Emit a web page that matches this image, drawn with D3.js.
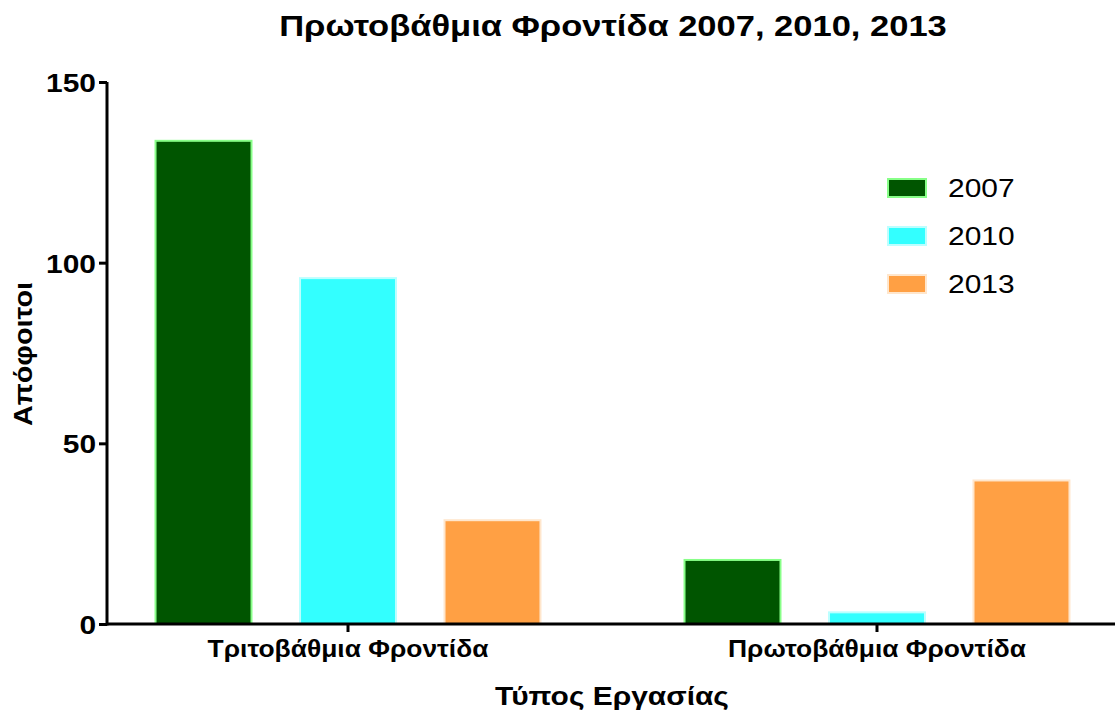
<!DOCTYPE html>
<html>
<head>
<meta charset="utf-8">
<script src="https://cdn.jsdelivr.net/npm/d3@7"></script>
<style>
  body { margin: 0; background: #fff; }
  text { font-family: "Liberation Sans", Arial, sans-serif; }
</style>
</head>
<body>
<svg id="chart" width="1115" height="715"></svg>
<script>
// data
var categories = ["Τριτοβάθμια Φροντίδα", "Πρωτοβάθμια Φροντίδα"];
var years = ["2007", "2010", "2013"];
var values2007 = [134, 18];
var values2010 = [96, 3.5];
var values2013 = [29, 40];
var yTicks = [0, 50, 100, 150];

var fills = ["#005500", "#33ffff", "#ffa044"];
var strokes = ["#88ff88", "#bbffff", "#ffe6cc"];

var margin = {top: 82, left: 107, right: 0, bottom: 91},
    width = 1115 - margin.left - margin.right,
    height = 715 - margin.top - margin.bottom;

var series = [values2007, values2010, values2013];

// the reference font is a little wider than Liberation Sans
function stretch(sel, k) {
    k = k || 1.15;
    sel.each(function() {
        var len = this.getComputedTextLength();
        d3.select(this).attr("textLength", len * k).attr("lengthAdjust", "spacingAndGlyphs");
    });
}

var x0 = d3.scaleBand()
    .domain(categories)
    .range([0, 1011])
    .paddingInner(0.1)
    .paddingOuter(0.0056);

var x1 = d3.scaleBand()
    .domain(years)
    .range([0, x0.bandwidth()])
    .paddingInner(0.322)
    .paddingOuter(0.3085);

var y = d3.scaleLinear()
    .domain([0, 150])
    .range([height, 0]);

var svg = d3.select("#chart");
var chart = svg.append("g")
    .attr("transform", "translate(" + margin.left + "," + margin.top + ")");

// bars
categories.forEach(function(cat, ci) {
    var g = chart.append("g")
        .attr("transform", "translate(" + x0(cat) + ",0)");
    g.selectAll("rect")
        .data(years.map(function(yr, si) { return {year: yr, si: si, value: series[si][ci]}; }))
      .enter().append("rect")
        .attr("x", function(d) { return x1(d.year) + 1; })
        .attr("y", function(d) { return y(d.value) + 1; })
        .attr("width", x1.bandwidth() - 2)
        .attr("height", function(d) { return height - y(d.value) - 1; })
        .attr("fill", function(d) { return fills[d.si]; })
        .attr("stroke", function(d) { return strokes[d.si]; })
        .attr("stroke-width", 2);
});

// axes
var yAxis = d3.axisLeft(y).tickValues(yTicks).tickSize(8).tickPadding(3);
var yg = chart.append("g").call(yAxis);
yg.select(".domain").attr("stroke-width", 3).attr("d", "M0," + (height + 1.5) + "V0");
yg.selectAll(".tick line").attr("stroke-width", 3);
yg.selectAll(".tick text")
    .style("font-size", "26px").style("font-weight", "bold").attr("fill", "#000")
    .attr("dy", "0.36em")
    .call(stretch);

var xAxis = d3.axisBottom(x0).tickSize(8).tickPadding(6);
var xg = chart.append("g")
    .attr("transform", "translate(0," + height + ")")
    .call(xAxis);
xg.select(".domain").attr("stroke-width", 3).attr("d", "M0,0H" + width);
xg.selectAll(".tick line").attr("stroke-width", 3);
xg.selectAll(".tick text")
    .style("font-size", "24px").style("font-weight", "bold").attr("fill", "#000")
    .attr("dy", "0.78em")
    .call(stretch, 1.1);

// title and labels
svg.append("text")
    .attr("x", 613).attr("y", 36)
    .attr("text-anchor", "middle")
    .style("font-size", "30px").style("font-weight", "bold")
    .text("Πρωτοβάθμια Φροντίδα 2007, 2010, 2013")
    .call(stretch);

svg.append("text")
    .attr("x", 612).attr("y", 705)
    .attr("text-anchor", "middle")
    .style("font-size", "26px").style("font-weight", "bold")
    .text("Τύπος Εργασίας")
    .call(stretch);

svg.append("text")
    .attr("transform", "translate(32,354) rotate(-90)")
    .attr("text-anchor", "middle")
    .style("font-size", "25px").style("font-weight", "bold")
    .text("Απόφοιτοι")
    .call(stretch);

// legend
var legend = svg.append("g").attr("transform", "translate(888,179)");
years.forEach(function(yr, i) {
    var row = legend.append("g").attr("transform", "translate(0," + (i * 48) + ")");
    row.append("rect")
        .attr("width", 38).attr("height", 18)
        .attr("fill", fills[i]).attr("stroke", strokes[i]).attr("stroke-width", 2);
    row.append("text")
        .attr("x", 60).attr("y", 9).attr("dy", "0.36em")
        .style("font-size", "26px")
        .text(yr)
        .call(stretch);
});
</script>
</body>
</html>
